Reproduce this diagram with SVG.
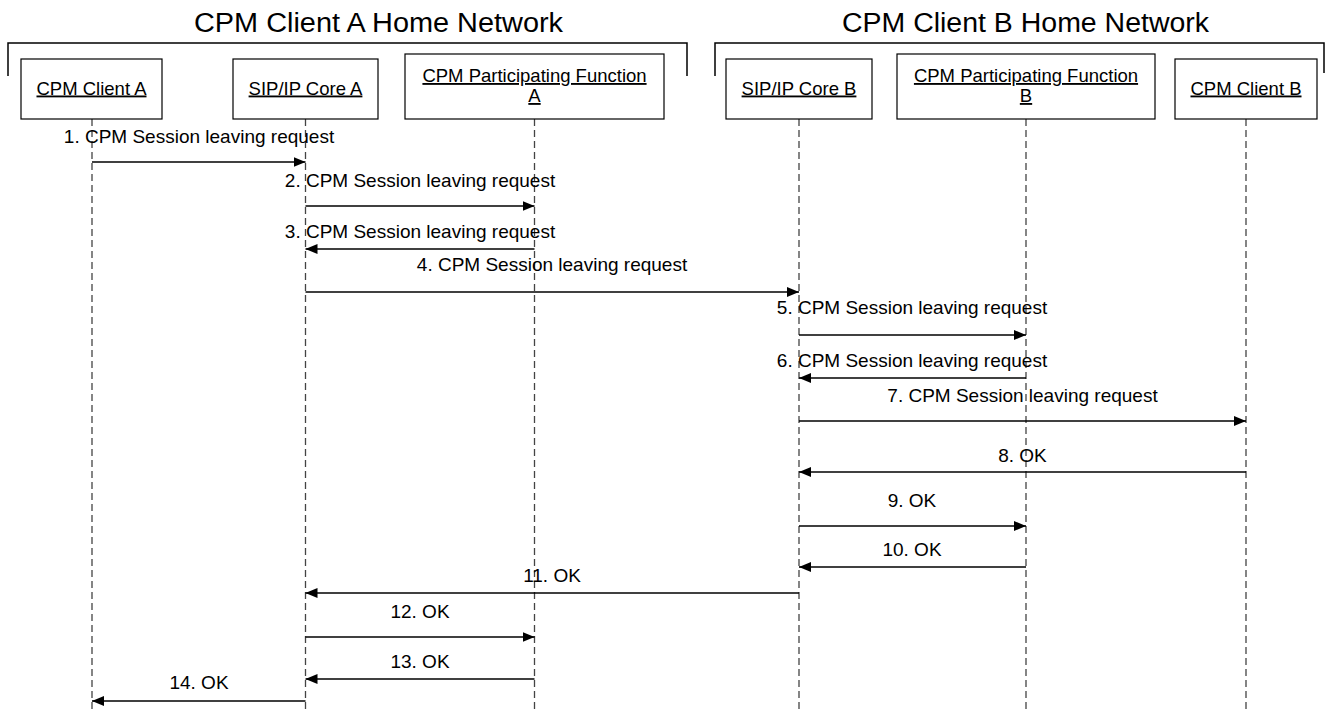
<svg xmlns="http://www.w3.org/2000/svg" width="1325" height="709" viewBox="0 0 1325 709">
<style>
  .title { font-family: "Liberation Sans", Arial, sans-serif; font-size: 27px; fill: #000; text-anchor: middle; }
  .box { fill: #fff; stroke: #000; stroke-width: 1.2; }
  .blabel { font-family: "Liberation Sans", Arial, sans-serif; font-size: 18.5px; fill: #000; text-anchor: middle; text-decoration: underline; }
  .life { stroke: #444; stroke-width: 1.3; stroke-dasharray: 7 4; fill: none; }
  .bracket { stroke: #000; stroke-width: 1.5; fill: none; }
  .msg { stroke: #000; stroke-width: 1.3; fill: none; marker-end: url(#arrow); }
  .mlabel { font-family: "Liberation Sans", Arial, sans-serif; font-size: 19px; fill: #000; text-anchor: middle; }
</style>
<defs>
  <marker id="arrow" markerUnits="userSpaceOnUse" markerWidth="12" markerHeight="10" refX="12" refY="5" orient="auto">
    <path d="M0,0 L12,5 L0,10 z" fill="#000"/>
  </marker>
</defs>
<rect width="1325" height="709" fill="#fff"/>

<g id="network-a">
  <text class="title" x="378.5" y="32" textLength="369" lengthAdjust="spacingAndGlyphs">CPM Client A Home Network</text>
  <path class="bracket" d="M8,76 V43 H687 V76"/>
</g>
<g id="network-b">
  <text class="title" x="1025.5" y="32" textLength="367" lengthAdjust="spacingAndGlyphs">CPM Client B Home Network</text>
  <path class="bracket" d="M715,76 V43 H1324 V73"/>
</g>

<g id="lifelines">
  <line class="life" x1="92" y1="119" x2="92" y2="709"/>
  <line class="life" x1="305.5" y1="119" x2="305.5" y2="709"/>
  <line class="life" x1="534.5" y1="119" x2="534.5" y2="709"/>
  <line class="life" x1="799" y1="119" x2="799" y2="709"/>
  <line class="life" x1="1026" y1="119" x2="1026" y2="709"/>
  <line class="life" x1="1246" y1="119" x2="1246" y2="709"/>
</g>

<g id="client-a">
  <rect class="box" x="21" y="59" width="141" height="60"/>
  <text class="blabel" x="91.5" y="94.5">CPM Client A</text>
</g>
<g id="sip-core-a">
  <rect class="box" x="233" y="59" width="145" height="60"/>
  <text class="blabel" x="305.5" y="94.5">SIP/IP Core A</text>
</g>
<g id="pf-a">
  <rect class="box" x="405" y="54" width="259" height="65"/>
  <text class="blabel" x="534.5" y="82">CPM Participating Function</text>
  <text class="blabel" x="534.5" y="102">A</text>
</g>
<g id="sip-core-b">
  <rect class="box" x="726" y="59" width="146" height="60"/>
  <text class="blabel" x="799" y="94.5">SIP/IP Core B</text>
</g>
<g id="pf-b">
  <rect class="box" x="897" y="54" width="258" height="65"/>
  <text class="blabel" x="1026" y="82">CPM Participating Function</text>
  <text class="blabel" x="1026" y="102">B</text>
</g>
<g id="client-b">
  <rect class="box" x="1175" y="59" width="142" height="60"/>
  <text class="blabel" x="1246" y="94.5">CPM Client B</text>
</g>

<g id="connectors">
  <line class="msg" x1="92" y1="162" x2="305.5" y2="162"/>
  <text class="mlabel" x="199" y="143">1. CPM Session leaving request</text>
  <line class="msg" x1="305.5" y1="206" x2="534.5" y2="206"/>
  <text class="mlabel" x="420" y="187">2. CPM Session leaving request</text>
  <line class="msg" x1="534.5" y1="249" x2="305.5" y2="249"/>
  <text class="mlabel" x="420" y="238">3. CPM Session leaving request</text>
  <line class="msg" x1="305.5" y1="292" x2="799" y2="292"/>
  <text class="mlabel" x="552" y="271">4. CPM Session leaving request</text>
  <line class="msg" x1="799" y1="335" x2="1026" y2="335"/>
  <text class="mlabel" x="912" y="314">5. CPM Session leaving request</text>
  <line class="msg" x1="1026" y1="378" x2="799" y2="378"/>
  <text class="mlabel" x="912" y="367">6. CPM Session leaving request</text>
  <line class="msg" x1="799" y1="421" x2="1246" y2="421"/>
  <text class="mlabel" x="1022.5" y="402">7. CPM Session leaving request</text>
  <line class="msg" x1="1246" y1="472" x2="799" y2="472"/>
  <text class="mlabel" x="1022.5" y="462">8. OK</text>
  <line class="msg" x1="799" y1="526" x2="1026" y2="526"/>
  <text class="mlabel" x="912" y="507">9. OK</text>
  <line class="msg" x1="1026" y1="567" x2="799" y2="567"/>
  <text class="mlabel" x="912" y="556">10. OK</text>
  <line class="msg" x1="799" y1="593" x2="305.5" y2="593"/>
  <text class="mlabel" x="552" y="582">11. OK</text>
  <line class="msg" x1="305.5" y1="637" x2="534.5" y2="637"/>
  <text class="mlabel" x="420" y="618">12. OK</text>
  <line class="msg" x1="534.5" y1="679" x2="305.5" y2="679"/>
  <text class="mlabel" x="420" y="668">13. OK</text>
  <line class="msg" x1="305.5" y1="701" x2="92" y2="701"/>
  <text class="mlabel" x="199" y="689">14. OK</text>
</g>
</svg>
